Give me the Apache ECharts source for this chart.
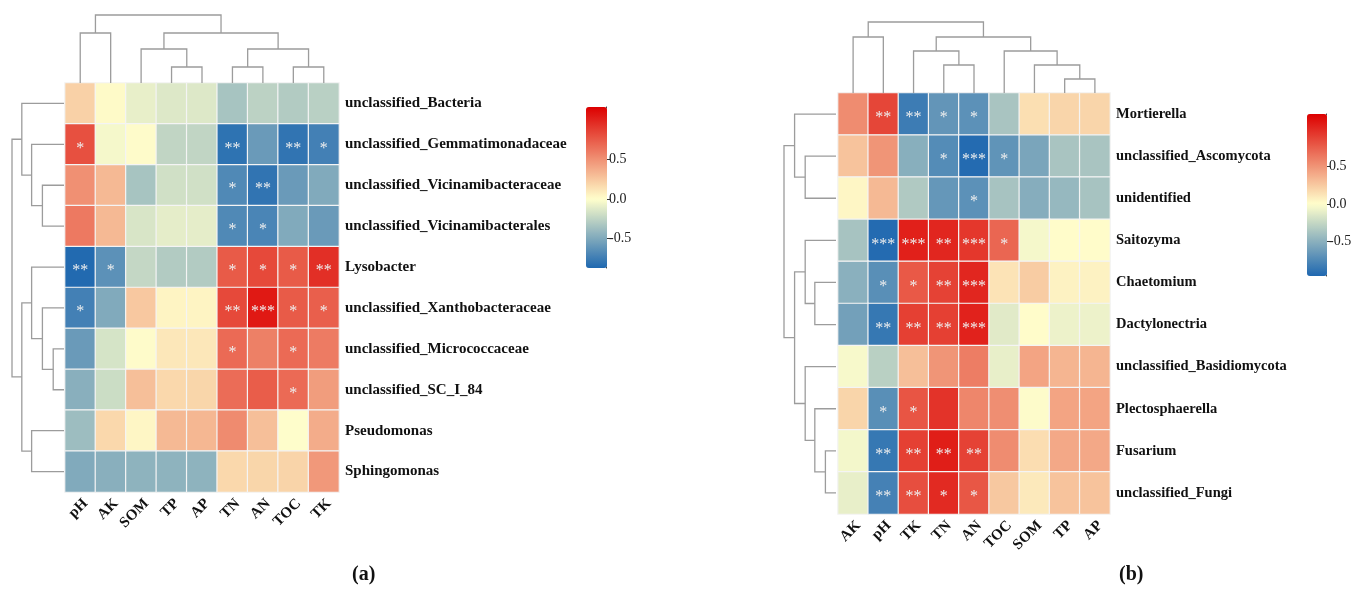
<!DOCTYPE html>
<html>
<head>
<meta charset="utf-8">
<script src="https://cdn.jsdelivr.net/npm/echarts@6/dist/echarts.min.js"></script>
<style>html,body{margin:0;padding:0;background:#fff}#c{width:1364px;height:590px}</style>
</head>
<body>
<div id="c"></div>
<script>
// ---------------- data (a) ----------------
const colsA = ['pH','AK','SOM','TP','AP','TN','AN','TOC','TK'];
const rowsA = ['unclassified_Bacteria','unclassified_Gemmatimonadaceae','unclassified_Vicinamibacteraceae','unclassified_Vicinamibacterales','Lysobacter','unclassified_Xanthobacteraceae','unclassified_Micrococcaceae','unclassified_SC_I_84','Pseudomonas','Sphingomonas'];
const valuesA = [
  [ 0.21,  0.02, -0.09, -0.13, -0.13, -0.34, -0.26, -0.30, -0.27],
  [ 0.80, -0.04,  0.01, -0.24, -0.24, -0.81, -0.58, -0.80, -0.73],
  [ 0.51,  0.32, -0.34, -0.18, -0.18, -0.68, -0.80, -0.58, -0.49],
  [ 0.61,  0.32, -0.15, -0.10, -0.10, -0.68, -0.70, -0.49, -0.58],
  [-0.86, -0.63, -0.23, -0.30, -0.30,  0.75,  0.83,  0.75,  0.95],
  [-0.73, -0.49,  0.25,  0.05,  0.05,  0.83,  1.05,  0.75,  0.73],
  [-0.58, -0.16,  0.01,  0.11,  0.11,  0.68,  0.58,  0.68,  0.60],
  [-0.46, -0.20,  0.29,  0.18,  0.19,  0.67,  0.74,  0.68,  0.45],
  [-0.38,  0.18,  0.04,  0.32,  0.33,  0.53,  0.29,  0.00,  0.38],
  [-0.49, -0.46, -0.44, -0.44, -0.44,  0.18,  0.19,  0.20,  0.47]
];
const starsA = [
  ['','','','','','','','',''],
  ['*','','','','','**','','**','*'],
  ['','','','','','*','**','',''],
  ['','','','','','*','*','',''],
  ['**','*','','','','*','*','*','**'],
  ['*','','','','','**','***','*','*'],
  ['','','','','','*','','*',''],
  ['','','','','','','','*',''],
  ['','','','','','','','',''],
  ['','','','','','','','','']
];
// linkage: [childA, childB, height]; ids >= n are earlier merges
const colMergesA = [[0,1,50],[3,4,16],[2,10,34],[5,6,16],[7,8,16],[12,13,34],[11,14,50],[9,15,68]];
const rowMergesA = [[2,3,22],[1,10,33],[0,11,43],[6,7,11],[5,13,22],[4,14,33],[8,9,33],[15,16,43],[12,17,53]];
const rangeA = [-0.87, 1.165];

// ---------------- data (b) ----------------
const colsB = ['AK','pH','TK','TN','AN','TOC','SOM','TP','AP'];
const rowsB = ['Mortierella','unclassified_Ascomycota','unidentified','Saitozyma','Chaetomium','Dactylonectria','unclassified_Basidiomycota','Plectosphaerella','Fusarium','unclassified_Fungi'];
const valuesB = [
  [ 0.54,  0.87, -0.83, -0.67, -0.70, -0.37,  0.15,  0.20,  0.20],
  [ 0.28,  0.50, -0.51, -0.73, -0.94, -0.68, -0.57, -0.37, -0.37],
  [ 0.04,  0.33, -0.34, -0.66, -0.70, -0.38, -0.52, -0.45, -0.38],
  [-0.38, -0.94,  1.05,  1.02,  0.94,  0.72, -0.04,  0.01,  0.01],
  [-0.50, -0.71,  0.78,  0.89,  1.02,  0.13,  0.24,  0.06,  0.06],
  [-0.60, -0.86,  0.90,  0.90,  1.04, -0.13,  0.01, -0.08, -0.08],
  [-0.03, -0.30,  0.30,  0.50,  0.61, -0.10,  0.43,  0.35,  0.35],
  [ 0.20, -0.71,  0.80,  0.96,  0.57,  0.53,  0.00,  0.43,  0.43],
  [-0.05, -0.86,  0.90,  1.06,  0.89,  0.54,  0.16,  0.41,  0.41],
  [-0.10, -0.80,  0.83,  1.00,  0.79,  0.26,  0.10,  0.28,  0.28]
];
const starsB = [
  ['','**','**','*','*','','','',''],
  ['','','','*','***','*','','',''],
  ['','','','','*','','','',''],
  ['','***','***','**','***','*','','',''],
  ['','*','*','**','***','','','',''],
  ['','**','**','**','***','','','',''],
  ['','','','','','','','',''],
  ['','*','*','','','','','',''],
  ['','**','**','**','**','','','',''],
  ['','**','**','*','*','','','','']
];
const colMergesB = [[0,1,56],[3,4,28],[2,10,42],[7,8,14],[6,12,28],[5,13,42],[11,14,56],[9,15,71]];
const rowMergesB = [[1,2,32],[0,10,43],[4,5,22],[3,12,32],[8,9,11],[7,14,22],[6,15,32],[13,16,43],[11,17,54]];
const rangeB = [-0.96, 1.2];

const legendTicks = [-0.5, 0, 0.5];

// ---------------- helpers ----------------
const SERIF = '"Liberation Serif","DejaVu Serif",serif';
function ramp(min, max, n) {
  const blue = [31,104,176], yel = [255,255,204], red = [220,0,0];
  const out = [];
  for (let i = 0; i < n; i++) {
    const v = min + (max - min) * i / (n - 1);
    let a, t;
    if (v < 0) { a = blue; t = v / min; } else { a = red; t = v / max; }
    const c = yel.map((y, k) => Math.round(y + (a[k] - y) * t));
    out.push('rgb(' + c.join(',') + ')');
  }
  return out;
}
function cells(values, stars) {
  const d = [];
  values.forEach((row, r) => row.forEach((v, c) => d.push([c, r, v, stars[r][c]])));
  return d;
}
function segs(merges, n) {
  const pos = [], h = [];
  for (let i = 0; i < n; i++) { pos.push(i); h.push(0); }
  const out = [];
  merges.forEach(([a, b, hm]) => {
    out.push([pos[a], h[a], pos[b], h[b], hm]);
    pos.push((pos[a] + pos[b]) / 2); h.push(hm);
  });
  return out;
}
function dendro(merges, n, xi, yi, isRow) {
  return {
    type: 'custom', xAxisIndex: xi, yAxisIndex: yi, silent: true,
    data: segs(merges, n),
    renderItem: function (params, api) {
      const xa = api.value(0), ha = api.value(1), xb = api.value(2), hb = api.value(3), hm = api.value(4);
      const P = isRow ? (p, hh) => api.coord([hh, p]) : (p, hh) => api.coord([p, hh]);
      return { type: 'polyline', shape: { points: [P(xa, ha), P(xa, hm), P(xb, hm), P(xb, hb)] },
               style: { stroke: '#9c9c9c', lineWidth: 1.3, fill: null } };
    }
  };
}
function heat(values, stars, xi, yi) {
  return {
    type: 'heatmap', xAxisIndex: xi, yAxisIndex: yi, data: cells(values, stars),
    itemStyle: { borderColor: '#f4f4f4', borderWidth: 1.2 },
    label: { show: true, formatter: p => p.data[3], color: '#eeeeee', fontSize: 16,
             fontFamily: SERIF, offset: [0, 4] },
    emphasis: { disabled: true }
  };
}
const catX = (cols, gi) => ({ type: 'category', gridIndex: gi, data: cols, position: 'bottom',
  axisLine: { show: false }, axisTick: { show: false }, splitLine: { show: false },
  axisLabel: { rotate: 45, margin: 4, verticalAlign: 'top', fontFamily: SERIF, fontWeight: 'bold', fontSize: 15, color: '#111', interval: 0 } });
const catY = (rows, gi, fs) => ({ type: 'category', gridIndex: gi, data: rows, inverse: true, position: 'right',
  axisLine: { show: false }, axisTick: { show: false }, splitLine: { show: false },
  axisLabel: { margin: 6, fontFamily: SERIF, fontWeight: 'bold', fontSize: fs, color: '#111', interval: 0 } });
const hidden = (gi, min, max, inv) => ({ type: 'value', gridIndex: gi, min, max, inverse: !!inv, show: false });
const cbAxis = (gi, range) => ({ type: 'value', gridIndex: gi, min: range[0], max: range[1], position: 'right',
  axisLine: { show: true, lineStyle: { color: '#333', width: 1 } },
  axisTick: { show: true, length: 4, lineStyle: { color: '#333' }, customValues: legendTicks },
  axisLabel: { margin: 2, fontFamily: SERIF, fontSize: 14, color: '#222', customValues: legendTicks,
               formatter: v => v.toFixed(1) },
  splitLine: { show: false } });

const option = {
  animation: false,
  backgroundColor: '#fff',
  title: [
    { text: '{n|(}{b|a}{n|)}', left: 352, top: 565, padding: 0,
      textStyle: { rich: { n: { fontFamily: SERIF, fontSize: 20, color: '#111' }, b: { fontFamily: SERIF, fontSize: 20, fontWeight: 'bold', color: '#111' } } } },
    { text: '{n|(}{b|b}{n|)}', left: 1119, top: 565, padding: 0,
      textStyle: { rich: { n: { fontFamily: SERIF, fontSize: 20, color: '#111' }, b: { fontFamily: SERIF, fontSize: 20, fontWeight: 'bold', color: '#111' } } } }
  ],
  grid: [
    { left: 65, top: 83, width: 274, height: 409 },
    { left: 65, top: 15, width: 274, height: 68 },
    { left: 12, top: 83, width: 52, height: 409 },
    { left: 838, top: 93, width: 272, height: 421 },
    { left: 838, top: 22, width: 272, height: 71 },
    { left: 784, top: 93, width: 52, height: 421 },
    { left: 606, top: 107, width: 1, height: 161 },
    { left: 1326, top: 114, width: 1, height: 162 }
  ],
  xAxis: [
    catX(colsA, 0), hidden(1, -0.5, 8.5), hidden(2, 0, 53, true),
    catX(colsB, 3), hidden(4, -0.5, 8.5), hidden(5, 0, 54, true),
    hidden(6, 0, 1), hidden(7, 0, 1)
  ],
  yAxis: [
    catY(rowsA, 0, 15), hidden(1, 0, 68), hidden(2, -0.5, 9.5, true),
    catY(rowsB, 3, 14.5), hidden(4, 0, 71), hidden(5, -0.5, 9.5, true),
    cbAxis(6, rangeA), cbAxis(7, rangeB)
  ],
  visualMap: [
    { type: 'continuous', seriesIndex: 0, dimension: 2, min: rangeA[0], max: rangeA[1], calculable: false,
      left: 586, top: 107, itemWidth: 21, itemHeight: 161, padding: 0, text: null, showLabel: false,
      inRange: { color: ramp(rangeA[0], rangeA[1], 41) } },
    { type: 'continuous', seriesIndex: 3, dimension: 2, min: rangeB[0], max: rangeB[1], calculable: false,
      left: 1307, top: 114, itemWidth: 20, itemHeight: 162, padding: 0, text: null, showLabel: false,
      inRange: { color: ramp(rangeB[0], rangeB[1], 41) } }
  ],
  series: [
    heat(valuesA, starsA, 0, 0),
    dendro(colMergesA, 9, 1, 1, false),
    dendro(rowMergesA, 10, 2, 2, true),
    heat(valuesB, starsB, 3, 3),
    dendro(colMergesB, 9, 4, 4, false),
    dendro(rowMergesB, 10, 5, 5, true)
  ]
};
const chart = echarts.init(document.getElementById('c'), null, { renderer: 'canvas' });
chart.setOption(option);
</script>
</body>
</html>
